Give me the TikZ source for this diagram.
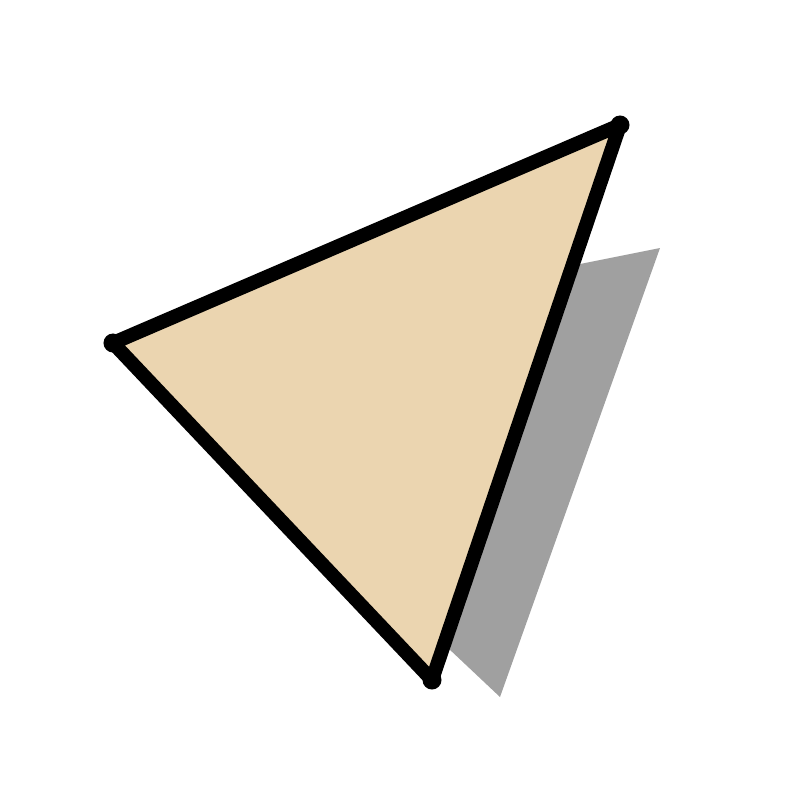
\documentclass[tikz,border=0pt]{standalone}
\definecolor{sand}{HTML}{EBD5B0}
\definecolor{shadowgray}{HTML}{A0A0A0}

\begin{document}
\begin{tikzpicture}[x=0.01cm, y=-0.01cm, edge/.style={line width=0.14cm, line join=round, line cap=round}, vertex/.style={circle, fill=black, inner sep=0pt, minimum size=0.19cm}]
    \useasboundingbox (0,0) rectangle (800,800);

    % shadow
    \fill[shadowgray] (135,353) -- (660,248) -- (500,697) -- cycle;

    \coordinate (L) at (113,343);
    \coordinate (T) at (620,125);
    \coordinate (B) at (432,680);

    \fill[sand] (L) -- (T) -- (B) -- cycle;
    \draw[edge] (L) -- (T) -- (B) -- cycle;

    \node[vertex] (Ldot) at (L) {};
    \node[vertex] (Tdot) at (T) {};
    \node[vertex] (Bdot) at (B) {};
\end{tikzpicture}
\end{document}
